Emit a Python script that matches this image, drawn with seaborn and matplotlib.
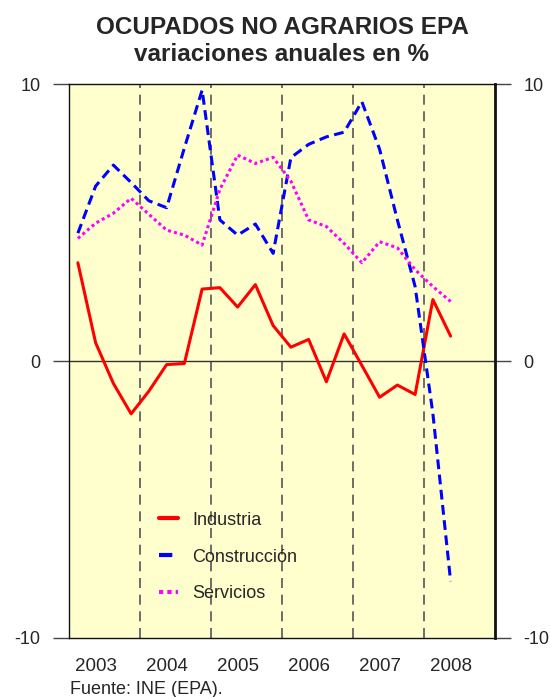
import numpy as np
import pandas as pd
import matplotlib
matplotlib.use("Agg")
import matplotlib.pyplot as plt
import seaborn as sns

# ---- data (quarterly annual % change, 2003Q1 .. 2008Q2) ----
years = [2003, 2004, 2005, 2006, 2007, 2008]
quarters = [f"{y}T{q}" for y in years for q in range(1, 5)][:22]
industria = [3.55, 0.66, -0.81, -1.91, -1.09, -0.13, -0.09, 2.60,
             2.65, 1.95, 2.76, 1.28, 0.50, 0.78, -0.75, 0.98,
             -0.16, -1.31, -0.87, -1.21, 2.22, 0.90]
construccion = [4.62, 6.32, 7.08, 6.45, 5.79, 5.54, 7.70, 9.79,
                5.10, 4.55, 4.95, 3.89, 7.35, 7.83, 8.10, 8.27,
                9.37, 7.65, 5.10, 2.69, -1.90, -7.96]
servicios = [4.43, 4.98, 5.34, 5.88, 5.30, 4.73, 4.55, 4.19,
             6.20, 7.44, 7.14, 7.36, 6.50, 5.10, 4.86, 4.25,
             3.55, 4.31, 4.09, 3.30, 2.69, 2.15]
series_names = ["Industria", "Construcción", "Servicios"]
year_labels = [str(y) for y in years]
title_text = "OCUPADOS NO AGRARIOS EPA\nvariaciones anuales en %"
source_text = "Fuente: INE (EPA)."

# quarter centres on a continuous year axis
t = [years[0] + (i + 0.5) / 4 for i in range(len(quarters))]
df = pd.DataFrame({
    "t": t * 3,
    "v": industria + construccion + servicios,
    "serie": sum([[n] * len(t) for n in series_names], []),
})

sns.set_theme(style="white")
plt.rcParams["font.family"] = ["Liberation Sans", "DejaVu Sans"]

fig = plt.figure(figsize=(5.5, 6.97), dpi=100)
ax = fig.add_axes([69 / 550, 1 - 637.7 / 697, 426 / 550, (637.7 - 84.3) / 697])
ax.set_facecolor("#FFFFCE")

palette = {"Industria": "#FF0000", "Construcción": "#0000FF", "Servicios": "#FF00FF"}
dashes = {"Industria": "", "Construcción": (3.2, 1.8), "Servicios": (1.0, 1.0)}
sns.lineplot(data=df, x="t", y="v", hue="serie", style="serie",
             palette=palette, dashes=dashes, linewidth=2.2, ax=ax,
             sort=False)

# year separators and zero line
for y in years[1:]:
    ax.axvline(y, color="#555555", lw=1.2, ls=(0, (6, 4)), zorder=1)
ax.axhline(0, color="#333333", lw=1.0, zorder=1)

ax.set_xlim(years[0], years[-1] + 1)
ax.set_ylim(-10, 10)
ax.set_yticks([-10, 0, 10])
ax.set_yticklabels(["-10", "0", "10"])
ax.set_xticks([y + 0.375 for y in years])
ax.set_xticklabels(year_labels)
ax.tick_params(axis="y", which="both", left=True, right=True, labelleft=True,
               labelright=True, direction="out", length=11.5, width=1.0,
               color="#444444", labelsize=13, pad=9)
ax.tick_params(axis="x", length=0, labelsize=13.5, pad=14.5)
ax.set_xlabel("")
ax.set_ylabel("")
for s in ["left", "top", "bottom"]:
    ax.spines[s].set_color("#111111")
    ax.spines[s].set_linewidth(1.0)
ax.spines["right"].set_color("#111111")
ax.spines["right"].set_linewidth(2.0)

leg = ax.legend(loc="upper left", bbox_to_anchor=(0.172, 0.257), frameon=False,
                fontsize=13, handlelength=1.1, handletextpad=0.75,
                labelspacing=1.1)
for h in leg.get_lines():
    h.set_linewidth(3)

fig.text(282 / 550, 1 - 41 / 697, title_text, ha="center", va="center",
         fontsize=17.5, fontweight="bold", linespacing=1.2)
fig.text(70 / 550, 1 - 689 / 697, source_text, ha="left", va="center",
         fontsize=13)

fig.savefig("out.png", dpi=100)
